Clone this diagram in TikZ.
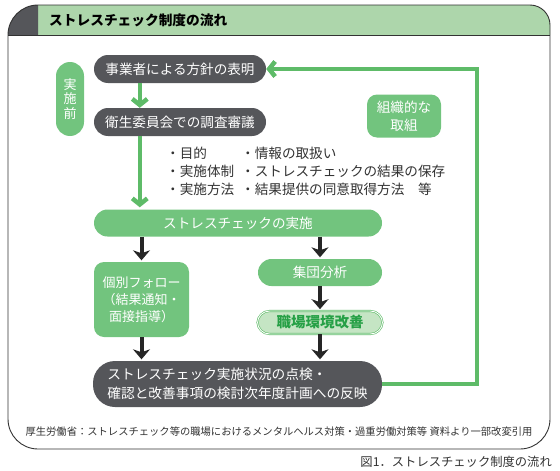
\documentclass[tikz,border=0pt]{standalone}
\usepackage{fontspec}
\setmainfont{Noto Sans CJK JP}
\usepackage{xcolor}
\usetikzlibrary{positioning, arrows.meta, calc}
\definecolor{scDark}{RGB}{85, 86, 90}
\definecolor{scGreen}{RGB}{114, 196, 126}
\definecolor{scLine}{RGB}{94, 187, 104}
\definecolor{scPale}{RGB}{173, 214, 171}
\definecolor{scMint}{RGB}{197, 229, 196}
\definecolor{scText}{RGB}{38, 160, 70}
\definecolor{scGray}{RGB}{50, 50, 50}
\tikzset{
    base/.style={
        font=\fontsize{13.6}{18}\selectfont,
        align=center,
        inner sep=0pt
    },
    darkpill/.style={
        base,
        rectangle,
        rounded corners=14pt,
        fill=scDark,
        text=white,
        minimum height=28pt
    },
    greenpill/.style={
        base,
        rectangle,
        rounded corners=13.5pt,
        fill=scGreen,
        text=white,
        minimum height=27pt
    },
    greenbox/.style={
        base,
        rectangle,
        rounded corners=10pt,
        fill=scGreen,
        text=white
    },
    goal/.style={
        base,
        rectangle,
        rounded corners=12pt,
        draw=scLine,
        line width=0.6pt,
        double=white,
        double distance=0.9pt,
        fill=scMint,
        text=scText,
        font=\fontsize{14.5}{18}\selectfont\bfseries,
        minimum height=23pt
    },
    gflow/.style={
        -{Straight Barb[length=6pt, width=15pt]},
        line width=4.5pt,
        color=scLine
    },
    kflow/.style={
        -{Stealth[length=10pt, width=17pt, inset=3pt]},
        line width=4pt,
        color=black!85,
        shorten >=1.5pt
    },
    note/.style={
        base,
        align=left,
        text=scGray,
        anchor=west
    }
}

\begin{document}
\begin{tikzpicture}[x=1pt, y=-1pt]
    \useasboundingbox (0,0) rectangle (560,471);

    % Frame and title bar
    \fill[scPale] (38,5) -- (530,5) arc[start angle=-90, end angle=0, radius=20] -- (550,35) -- (38,35) -- cycle;
    \fill[scDark] (8,35) arc[start angle=180, end angle=270, radius=30] -- (38,35) -- cycle;
    \draw[scGray, line width=0.9pt] (8,35) -- (550,35);
    \draw[scGray, line width=0.9pt] (8,35) -- (8,419) arc[start angle=180, end angle=90, radius=30] -- (520,449) arc[start angle=90, end angle=0, radius=30] -- (550,25) arc[start angle=0, end angle=-90, radius=20] -- (38,5) arc[start angle=270, end angle=180, radius=30] -- cycle;
    \node[base, font=\fontsize{13.7}{16}\selectfont\bfseries, anchor=west] (title) at (49,20) {ストレスチェック制度の流れ};

    % Before implementation
    \node[darkpill, minimum width=172pt] (policy) at (180,69) {事業者による方針の表明};
    \node[darkpill, minimum width=172pt] (committee) at (180,122) {衛生委員会での調査審議};
    \node[greenbox, rounded corners=14pt, minimum width=28pt, minimum height=74pt, font=\fontsize{13}{14.5}\selectfont] (before) at (70,99) {実\\施\\前};

    % Items to discuss
    \node[note] (itemsA) at (166,171) {・目的\\・実施体制\\・実施方法};
    \node[note] (itemsB) at (241,171) {・情報の取扱い\\・ストレスチェックの結果の保存\\・結果提供の同意取得方法　等};

    % Implementation
    \node[greenpill, minimum width=288pt] (check) at (238,223) {ストレスチェックの実施};
    \node[greenbox, minimum width=95pt, minimum height=75pt, font=\fontsize{13}{17}\selectfont] (follow) at (141.5,299.5) {個別フォロー\\（結果通知・\\面接指導）};
    \node[greenpill, minimum width=124pt] (group) at (320,272.5) {集団分析};
    \node[goal, minimum width=125pt] (improve) at (320,322.5) {職場環境改善};
    \node[darkpill, rounded corners=22pt, minimum width=289pt, minimum height=46pt, align=left, font=\fontsize{13.7}{19}\selectfont] (review) at (237.5,384) {ストレスチェック実施状況の点検・\\確認と改善事項の検討次年度計画への反映};
    \node[greenbox, minimum width=74pt, minimum height=43pt] (org) at (404,116) {組織的な\\取組};

    % Flow
    \draw[gflow] ([xshift=46pt]policy.south west) -- ([xshift=46pt]committee.north west);
    \draw[gflow, shorten >=2pt] ([xshift=46pt]committee.south west) -- ([xshift=46pt]check.north west);
    \draw[kflow] (check.south -| follow.north) -- (follow.north);
    \draw[kflow] (check.south -| group.north) -- (group.north);
    \draw[kflow] (group.south) -- (improve.north);
    \draw[kflow] (improve.south) -- (review.north -| improve.south);
    \draw[kflow] (follow.south) -- (review.north -| follow.south);
    \draw[gflow] (review.east) -- ++(95,0) |- (policy.east);

    % Source and caption
    \node[base, font=\fontsize{10.3}{12}\selectfont, text=scGray] (source) at (279,432) {厚生労働省：ストレスチェック等の職場におけるメンタルヘルス対策・過重労働対策等 資料より一部改変引用};
    \node[base, font=\fontsize{12.3}{14}\selectfont, text=scGray, anchor=east] (caption) at (552,462) {図1．ストレスチェック制度の流れ};
\end{tikzpicture}
\end{document}
